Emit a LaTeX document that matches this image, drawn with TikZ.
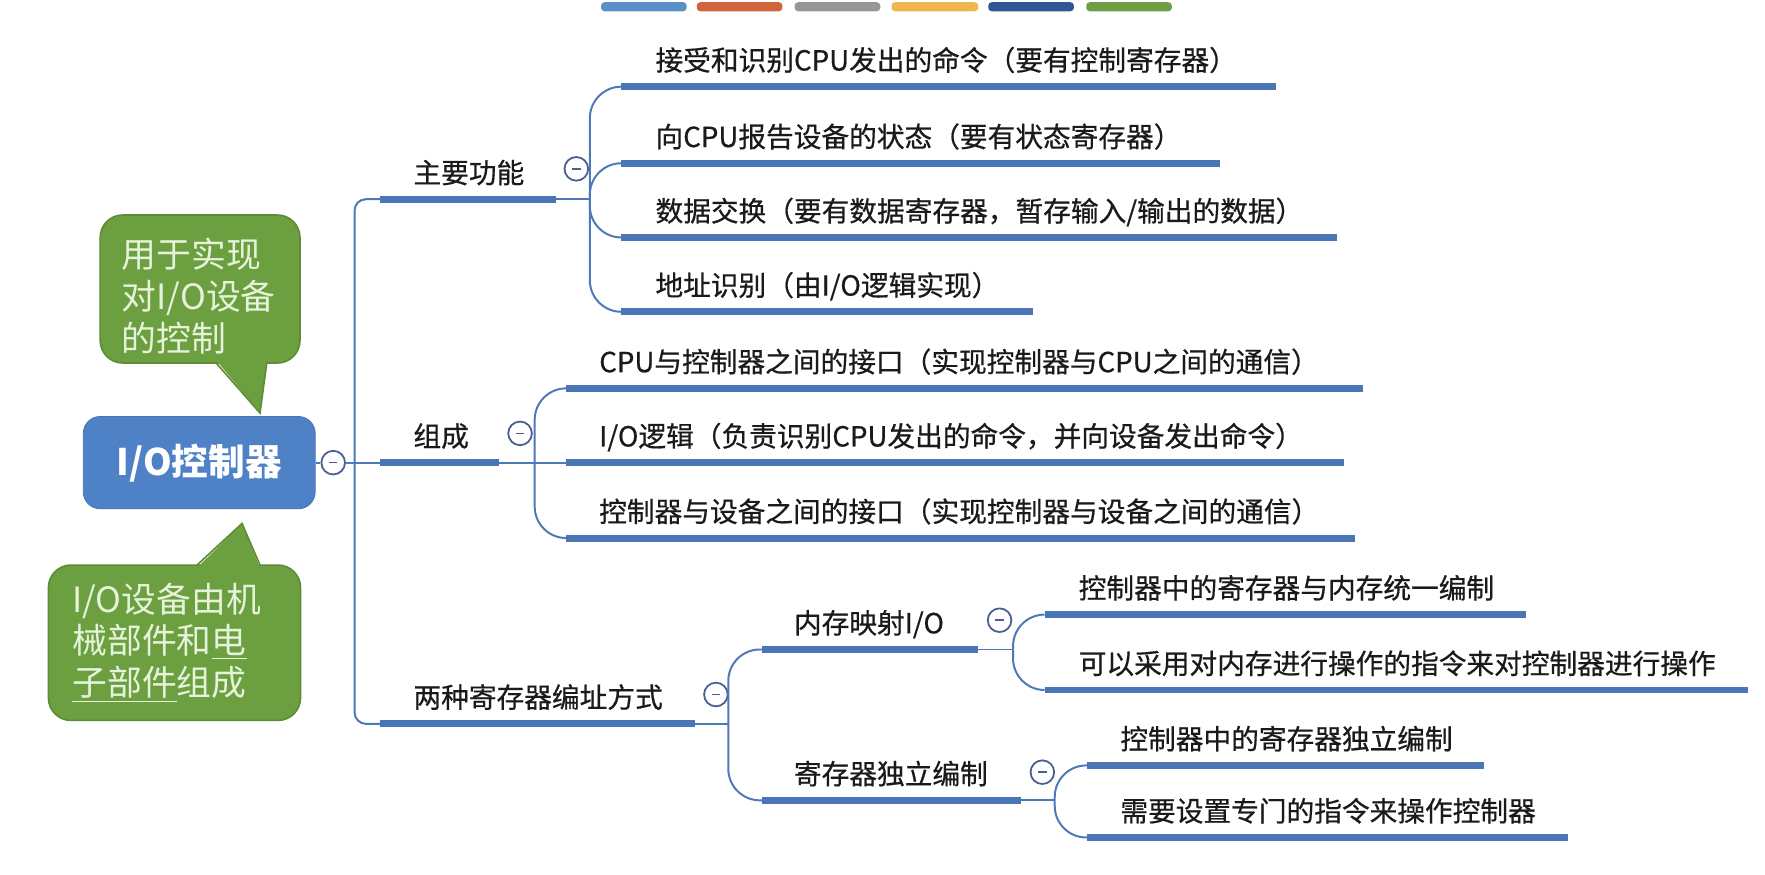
\documentclass[tikz,border=0pt]{standalone}
\usepackage{fontspec}
\setmainfont{Noto Sans CJK SC}
\newfontfamily\topicfont{Noto Sans CJK SC}[FakeBold=0.6]

\definecolor{rootblue}{HTML}{4E81C6}
\definecolor{rootedge}{HTML}{4574B8}
\definecolor{linkblue}{HTML}{4D79B7}
\definecolor{barblue}{HTML}{4A76B5}
\definecolor{foldedge}{HTML}{4A5F91}
\definecolor{topictext}{HTML}{1A1A1A}
\definecolor{notegreen}{HTML}{6B9F40}
\definecolor{noteedge}{HTML}{5C8C35}
\definecolor{notetext}{HTML}{E6F3DA}
\definecolor{tabblue}{HTML}{5B8FC8}
\definecolor{taborange}{HTML}{D0643A}
\definecolor{tabgray}{HTML}{979797}
\definecolor{tabyellow}{HTML}{EDB74E}
\definecolor{tabdark}{HTML}{2F5597}
\definecolor{tabgreen}{HTML}{6E9E45}

\newcommand{\foldminus}{\textcolor{foldedge}{\rule{1.5mm}{0.3mm}}}

\begin{document}
\begin{tikzpicture}[
	x=0.2mm,
	y=-0.2mm,
	root/.style={
		shape=rectangle,
		draw=rootedge,
		fill=rootblue,
		rounded corners=3mm,
		minimum width=41.2mm,
		minimum height=16.4mm,
		text=white,
		font=\fontsize{18.5}{22}\selectfont\bfseries,
	},
	topic/.style={
		anchor=south west,
		inner xsep=0pt,
		inner ysep=2.8mm,
		text depth=0pt,
		text width=#1,
		align=left,
		text=topictext,
		font=\topicfont\fontsize{14}{17}\selectfont,
	},
	fold/.style={
		shape=circle,
		draw=foldedge,
		fill=white,
		line width=0.9pt,
		minimum size=4.2mm,
		inner sep=0pt,
	},
	note/.style={
		anchor=north west,
		inner sep=0pt,
		align=left,
		text=notetext,
		font=\fontsize{17.6}{21}\selectfont,
	},
	link/.style={draw=linkblue, line width=1pt},
	bar/.style={draw=barblue, line width=3.5pt},
	callout/.style={fill=notegreen},
	calloutedge/.style={draw=noteedge, line width=0.8pt},
]
\useasboundingbox[fill=white] (0,0) rectangle (1568,776.5);

% colour tabs at the top
\fill[tabblue, rounded corners=0.6mm] (534,2) rectangle (610,10);
\fill[taborange, rounded corners=0.6mm] (619,2) rectangle (695,10);
\fill[tabgray, rounded corners=0.6mm] (706,2) rectangle (782,10);
\fill[tabyellow, rounded corners=0.6mm] (792,2) rectangle (869,10);
\fill[tabdark, rounded corners=0.6mm] (878,2) rectangle (954,10);
\fill[tabgreen, rounded corners=0.6mm] (965,2) rectangle (1041,10);

% callouts
\filldraw[callout, calloutedge, rounded corners=4mm] (89,191) rectangle (266.5,322.5);
\fill[callout] (192,320) -- (231,367) -- (237,320) -- cycle;
\draw[calloutedge] (192,322.5) -- (231,367) -- (237,322.5);
\filldraw[callout, calloutedge, rounded corners=4mm] (43,502) rectangle (267,640);
\fill[callout] (175,504.5) -- (215,465) -- (231,504.5) -- cycle;
\draw[calloutedge] (175,502) -- (215,465) -- (231,502);

\node (note1) [note] at (108,211.5) {用于实现\\对I/O设备\\的控制};
\node (note2) [note] at (64,517.5) {I/O设备由机\\械部件和\underline{电}\\\underline{子部件}组成};

\node (root) [root] at (177,411) {I/O控制器};
\node (f0) [fold] at (296,411) {\foldminus};

\coordinate (jroot) at (315,411);
\coordinate (jmain) at (524,177);
\coordinate (jcomp) at (475,411);
\coordinate (jaddr) at (647,643);
\coordinate (jmm) at (900,577);
\coordinate (jind) at (937,711);

\node (main) [topic=31mm] at (338,177) {\hspace*{5.8mm}主要功能};
\node (comp) [topic=21mm] at (338,411) {\hspace*{5.8mm}组成};
\node (addr) [topic=55.8mm] at (338,643) {\hspace*{5.8mm}两种寄存器编址方式};

\node (fn1) [topic=116.2mm] at (552,77) {\hspace*{6mm}接受和识别CPU发出的命令（要有控制寄存器）};
\node (fn2) [topic=106.2mm] at (552,145) {\hspace*{6mm}向CPU报告设备的状态（要有状态寄存器）};
\node (fn3) [topic=127mm] at (552,211) {\hspace*{6mm}数据交换（要有数据寄存器，暂存输入/输出的数据）};
\node (fn4) [topic=73mm] at (552,277) {\hspace*{6mm}地址识别（由I/O逻辑实现）};

\node (part1) [topic=141.4mm] at (503,345) {\hspace*{5.8mm}CPU与控制器之间的接口（实现控制器与CPU之间的通信）};
\node (part2) [topic=138mm] at (503,411) {\hspace*{5.8mm}I/O逻辑（负责识别CPU发出的命令，并向设备发出命令）};
\node (part3) [topic=140mm] at (503,478) {\hspace*{5.8mm}控制器与设备之间的接口（实现控制器与设备之间的通信）};

\node (mm) [topic=38.2mm] at (677,577) {\hspace*{5.6mm}内存映射I/O};
\node (ind) [topic=45.8mm] at (677,711) {\hspace*{5.6mm}寄存器独立编制};

\node (mm1) [topic=85.4mm] at (928,546) {\hspace*{6mm}控制器中的寄存器与内存统一编制};
\node (mm2) [topic=124.8mm] at (928,613) {\hspace*{6mm}可以采用对内存进行操作的指令来对控制器进行操作};
\node (ind1) [topic=70.4mm] at (966,680) {\hspace*{5.8mm}控制器中的寄存器独立编制};
\node (ind2) [topic=85.2mm] at (966,744) {\hspace*{5.8mm}需要设置专门的指令来操作控制器};

\node (f1) [fold] at (512,150) {\foldminus};
\node (f2) [fold] at (462,385) {\foldminus};
\node (f3) [fold] at (636,617) {\foldminus};
\node (f4) [fold] at (888,551) {\foldminus};
\node (f5) [fold] at (926,686) {\foldminus};

% underlines
\draw[bar] (main.south west) -- (main.south east);
\draw[bar] (comp.south west) -- (comp.south east);
\draw[bar] (addr.south west) -- (addr.south east);
\draw[bar] (fn1.south west) -- (fn1.south east);
\draw[bar] (fn2.south west) -- (fn2.south east);
\draw[bar] (fn3.south west) -- (fn3.south east);
\draw[bar] (fn4.south west) -- (fn4.south east);
\draw[bar] (part1.south west) -- (part1.south east);
\draw[bar] (part2.south west) -- (part2.south east);
\draw[bar] (part3.south west) -- (part3.south east);
\draw[bar] (mm.south west) -- (mm.south east);
\draw[bar] (ind.south west) -- (ind.south east);
\draw[bar] (mm1.south west) -- (mm1.south east);
\draw[bar] (mm2.south west) -- (mm2.south east);
\draw[bar] (ind1.south west) -- (ind1.south east);
\draw[bar] (ind2.south west) -- (ind2.south east);

% connectors
\draw[link] (root) -- (f0);
\draw[link] (f0) -- (jroot);
\draw[link, rounded corners=2mm] (jroot) |- (main.south west);
\draw[link] (jroot) -- (comp.south west);
\draw[link, rounded corners=2mm] (jroot) |- (addr.south west);

\draw[link] (main.south east) -- (jmain);
\draw[link, rounded corners=5.6mm] (jmain) |- (fn1.south west);
\draw[link, rounded corners=5.6mm] (jmain) |- (fn2.south west);
\draw[link, rounded corners=5.6mm] (jmain) |- (fn3.south west);
\draw[link, rounded corners=5.6mm] (jmain) |- (fn4.south west);

\draw[link] (comp.south east) -- (jcomp);
\draw[link, rounded corners=5.6mm] (jcomp) |- (part1.south west);
\draw[link] (jcomp) -- (part2.south west);
\draw[link, rounded corners=5.6mm] (jcomp) |- (part3.south west);

\draw[link] (addr.south east) -- (jaddr);
\draw[link, rounded corners=5.6mm] (jaddr) |- (mm.south west);
\draw[link, rounded corners=5.6mm] (jaddr) |- (ind.south west);

\draw[link] (mm.south east) -- (jmm);
\draw[link, rounded corners=5.6mm] (jmm) |- (mm1.south west);
\draw[link, rounded corners=5.6mm] (jmm) |- (mm2.south west);

\draw[link] (ind.south east) -- (jind);
\draw[link, rounded corners=5.6mm] (jind) |- (ind1.south west);
\draw[link, rounded corners=5.6mm] (jind) |- (ind2.south west);
\end{tikzpicture}
\end{document}
